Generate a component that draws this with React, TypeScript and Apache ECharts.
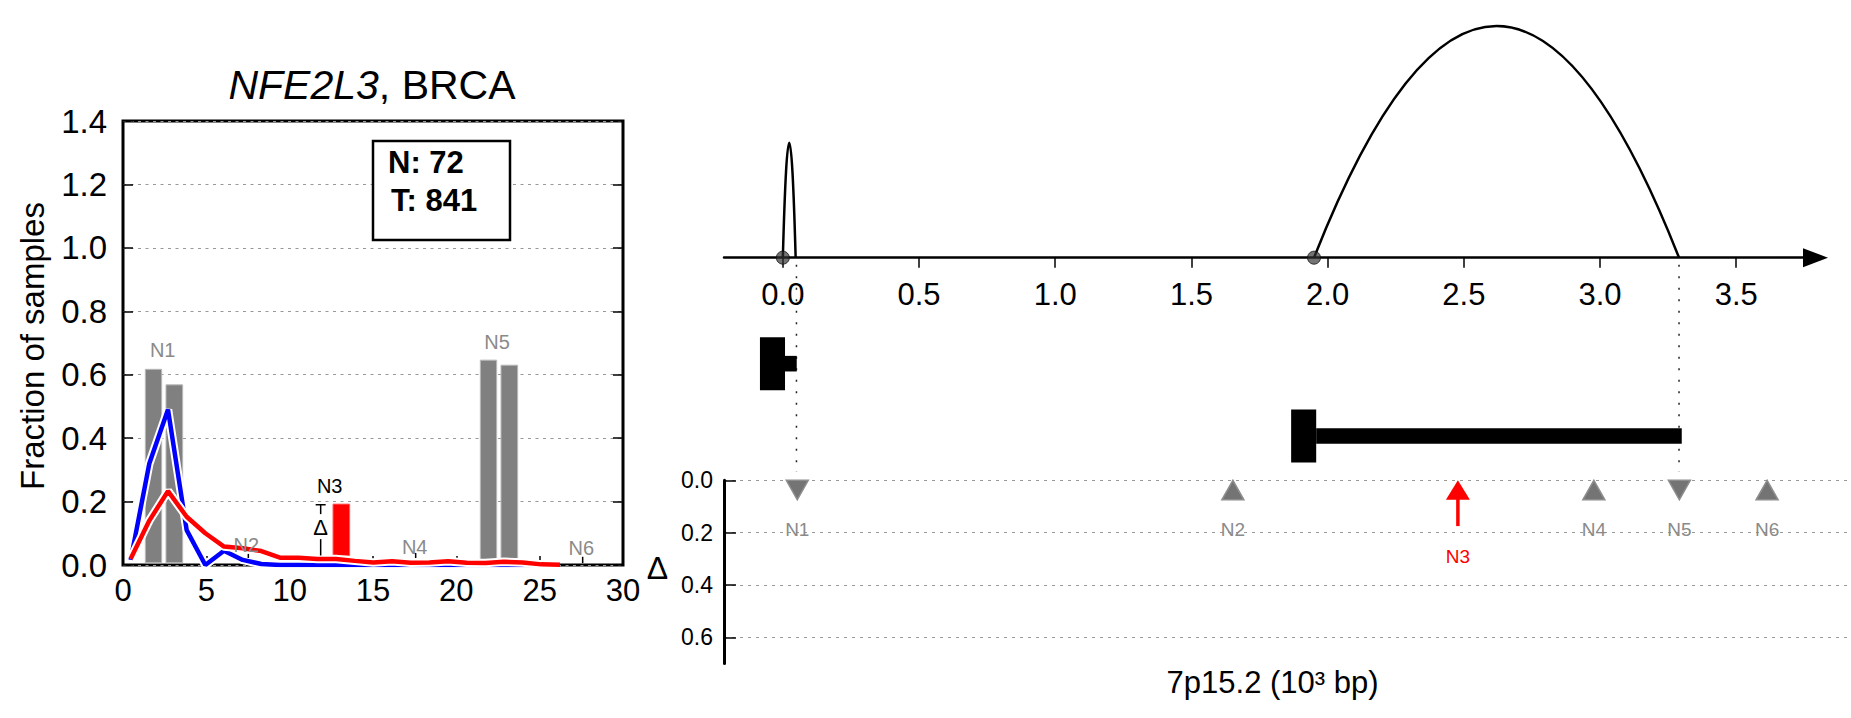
import React, { useEffect, useRef } from 'react';
import * as echarts from 'echarts';

const FONT = '"Liberation Sans", Arial, Helvetica, sans-serif';

// ---------------- Left panel: NFE2L3, BRCA ----------------
const curveX = [0.46, 1.58, 2.7, 3.82, 4.94, 6.06, 7.18, 8.3, 9.42, 10.54, 11.66, 12.78, 13.9, 15.02, 16.14, 17.26, 18.38, 19.5, 20.62, 21.74, 22.86, 23.98, 25.1, 26.22];
const normalCurve = [0.016, 0.32, 0.49, 0.11, 0.0, 0.045, 0.016, 0.003, 0.0, 0.0, 0.0, 0.0, 0.0, 0.0, 0.0, 0.0, 0.0, 0.0, 0.0, 0.0, 0.0, 0.0, 0.0, 0.0];
const tumorCurve = [0.02, 0.14, 0.233, 0.152, 0.1, 0.058, 0.053, 0.044, 0.023, 0.023, 0.019, 0.019, 0.013, 0.008, 0.012, 0.007, 0.008, 0.012, 0.007, 0.006, 0.01, 0.008, 0.002, 0.001];

const grayBarX0 = [1.34, 2.58, 21.44, 22.68];
const grayBarX1 = [2.32, 3.58, 22.42, 23.68];
const grayBarBottom = [0.007, 0.007, 0.016, 0.02];
const grayBarTop = [0.617, 0.568, 0.646, 0.63];

const redBarX0 = [12.6];
const redBarX1 = [13.6];
const redBarBottom = [0.03];
const redBarTop = [0.192];

const leftNodeNames = ['N1', 'N2', 'N3', 'N4', 'N5', 'N6'];
const leftNodeX = [2.38, 7.4, 12.4, 17.5, 22.44, 27.5];
const leftNodeY = [0.678, 0.063, 0.249, 0.057, 0.703, 0.054];

const smallTickX = [7.52, 17.56, 27.58];
const smallTickY0 = [0.022, 0.022, 0.006];
const smallTickY1 = [0.035, 0.038, 0.026];

const deltaMarkX = 11.86;
const deltaMarkTop = 0.19;
const deltaMarkBottom = 0.03;

const leftXMax = 30;
const leftYMax = 1.4;

// ---------------- Right panel: 7p15.2 ----------------
const arcStart = [0.0, 1.95];
const arcEnd = [0.047, 3.29];
const arcHeight = [0.496, 1.0];

const geneThickStart = [-0.084, 1.866];
const geneThinStart = [0.008, 1.958];
const geneEnd = [0.051, 3.3];
const geneTrackY = [-0.4575, -0.7695];

const guideX = [0.05, 3.29];
const guideY0 = -0.03;
const guideY1 = -0.925;

const topTicks = [0, 0.5, 1.0, 1.5, 2.0, 2.5, 3.0, 3.5];
const deltaTicks = [0, 0.2, 0.4, 0.6];

const nodeNames = ['N1', 'N2', 'N3', 'N4', 'N5', 'N6'];
const nodeX = [0.053, 1.652, 2.478, 2.977, 3.291, 3.613];
const nodeKind = ['down', 'up', 'arrow', 'up', 'down', 'up'];
const n3Delta = 0.175;

const X_MIN = -0.216;
const X_MAX_TOP = 3.791;
const X_MAX_BOTTOM = 3.91;

const txt = (text: string, x: number, y: number, font: string, fill: string, align = 'center', vAlign = 'middle', extra: any = {}) => ({
  type: 'text',
  x,
  y,
  ...extra,
  style: {
    text,
    font,
    fill,
    align,
    verticalAlign: vAlign,
    textAlign: align,
    textVerticalAlign: vAlign,
  },
});

function buildOption(): any {
  const lineStyleBase = { color: '#000', width: 1.5 };

  const grayBarData = grayBarX0.map((x, i) => [x, grayBarX1[i], grayBarBottom[i], grayBarTop[i]]);
  const redBarData = redBarX0.map((x, i) => [x, redBarX1[i], redBarBottom[i], redBarTop[i]]);
  const barRender = (fill: string, stroke: string) => (params: any, api: any) => {
    const p0 = api.coord([api.value(0), api.value(3)]);
    const p1 = api.coord([api.value(1), api.value(2)]);
    return {
      type: 'rect',
      shape: { x: p0[0], y: p0[1], width: p1[0] - p0[0], height: p1[1] - p0[1] },
      style: { fill, stroke, lineWidth: 1 },
    };
  };

  const normalData = curveX.map((x, i) => [x, normalCurve[i]]);
  const tumorData = curveX.map((x, i) => [x, tumorCurve[i]]);

  const leftLabelData = leftNodeNames.map((n, i) => [leftNodeX[i], leftNodeY[i], i]);
  const smallTickData = smallTickX.map((x, i) => [x, smallTickY0[i], smallTickY1[i]]);

  const arcData = arcStart.map((s, i) => [s, arcEnd[i], arcHeight[i]]);
  const geneData = geneThickStart.map((s, i) => [s, geneThinStart[i], geneEnd[i], geneTrackY[i]]);
  const guideData = guideX.map((x) => [x, guideY0, guideY1]);
  const nodeData = nodeX.map((x, i) => [x, 0, i]);

  return {
    animation: false,
    backgroundColor: '#fff',
    title: {
      text: '{it|NFE2L3}, BRCA',
      left: 367,
      top: 59,
      textAlign: 'center',
      textStyle: {
        fontSize: 41,
        fontWeight: 'normal',
        fontFamily: FONT,
        color: '#000',
        rich: { it: { fontStyle: 'italic', fontSize: 41, fontFamily: FONT, color: '#000' } },
      },
    },
    grid: [
      { left: 123, top: 121, width: 500, height: 444, show: true, borderColor: '#000', borderWidth: 3, backgroundColor: 'transparent' },
      { left: 724, top: 20, width: 1091.5, height: 237.7 },
      { left: 724, top: 480.3, width: 1124, height: 183.2 },
      { left: 724, top: 257.7, width: 1091.5, height: 222.6 },
    ],
    xAxis: [
      {
        gridIndex: 0, type: 'value', min: 0, max: leftXMax, interval: 5,
        axisLine: { show: false },
        axisTick: { inside: true, length: 9, lineStyle: lineStyleBase },
        axisLabel: { fontSize: 31, fontFamily: FONT, color: '#000', margin: 10 },
        splitLine: { show: false },
      },
      {
        gridIndex: 1, type: 'value', position: 'bottom', min: X_MIN, max: X_MAX_TOP,
        axisLine: { show: true, onZero: false, symbol: ['none', 'triangle'], symbolSize: [19, 25], lineStyle: { color: '#000', width: 2.5 } },
        axisTick: { show: true, customValues: topTicks, length: 10, lineStyle: lineStyleBase },
        axisLabel: { customValues: topTicks, formatter: (v: number) => v.toFixed(1), fontSize: 31, fontFamily: FONT, color: '#000', margin: 21 },
        splitLine: { show: false },
      },
      { gridIndex: 2, type: 'value', min: X_MIN, max: X_MAX_BOTTOM, show: false },
      { gridIndex: 3, type: 'value', min: X_MIN, max: X_MAX_TOP, show: false },
    ],
    yAxis: [
      {
        gridIndex: 0, type: 'value', min: 0, max: leftYMax, interval: 0.2,
        axisLine: { show: false },
        axisTick: { inside: true, length: 10, lineStyle: lineStyleBase },
        axisLabel: { fontSize: 33, fontFamily: FONT, color: '#000', margin: 16, formatter: (v: number) => v.toFixed(1) },
        splitLine: { show: true, lineStyle: { type: [3, 4.5], color: '#999', width: 1 } },
      },
      {
        gridIndex: 0, type: 'value', position: 'right', min: 0, max: leftYMax, interval: 0.2,
        axisLine: { show: false },
        axisTick: { inside: true, length: 10, lineStyle: lineStyleBase },
        axisLabel: { show: false },
        splitLine: { show: false },
      },
      { gridIndex: 1, type: 'value', min: 0, max: 1.026, show: false },
      {
        gridIndex: 2, type: 'value', inverse: true, min: 0, max: 0.7, position: 'left',
        axisLine: { show: true, onZero: false, lineStyle: { color: '#000', width: 3 } },
        axisTick: { inside: true, length: 12, customValues: deltaTicks, lineStyle: lineStyleBase },
        axisLabel: { customValues: deltaTicks, formatter: (v: number) => v.toFixed(1), fontSize: 23, fontFamily: FONT, color: '#000', margin: 11 },
        splitLine: { show: true, lineStyle: { type: [3, 5], color: '#999', width: 1 } },
      },
      { gridIndex: 3, type: 'value', min: -0.961, max: 0, show: false },
    ],
    series: [
      {
        type: 'custom', name: 'normal bars', xAxisIndex: 0, yAxisIndex: 0,
        data: grayBarData, renderItem: barRender('#808080', '#b8b8b8'), z: 2,
      },
      {
        type: 'custom', name: 'N3 bar', xAxisIndex: 0, yAxisIndex: 0,
        data: redBarData, renderItem: barRender('#ff0000', '#ff6060'), z: 2,
      },
      {
        type: 'line', name: 'normal-halo', xAxisIndex: 0, yAxisIndex: 0, data: normalData,
        showSymbol: false, symbol: 'none', silent: true, lineStyle: { color: '#fff', width: 8.5 }, z: 3,
      },
      {
        type: 'line', name: 'Normal', xAxisIndex: 0, yAxisIndex: 0, data: normalData,
        showSymbol: false, symbol: 'none', lineStyle: { color: '#0000ff', width: 4.5 }, z: 3,
      },
      {
        type: 'line', name: 'tumor-halo', xAxisIndex: 0, yAxisIndex: 0, data: tumorData,
        showSymbol: false, symbol: 'none', silent: true, lineStyle: { color: '#fff', width: 8.5 }, z: 4,
      },
      {
        type: 'line', name: 'Tumor', xAxisIndex: 0, yAxisIndex: 0, data: tumorData,
        showSymbol: false, symbol: 'none', lineStyle: { color: '#ff0000', width: 4.5 }, z: 4,
      },
      {
        type: 'custom', name: 'left labels', xAxisIndex: 0, yAxisIndex: 0, data: leftLabelData, z: 5,
        renderItem: (params: any, api: any) => {
          const i = api.value(2);
          const p = api.coord([api.value(0), api.value(1)]);
          const name = leftNodeNames[i];
          return txt(name, p[0], p[1], `20px ${FONT}`, name === 'N3' ? '#000' : '#8a8a8a');
        },
      },
      {
        type: 'custom', name: 'left small ticks', xAxisIndex: 0, yAxisIndex: 0, data: smallTickData, z: 5,
        renderItem: (params: any, api: any) => {
          const a = api.coord([api.value(0), api.value(1)]);
          const b = api.coord([api.value(0), api.value(2)]);
          return { type: 'line', shape: { x1: a[0], y1: a[1], x2: b[0], y2: b[1] }, style: { stroke: '#000', lineWidth: 1.5 } };
        },
      },
      {
        type: 'custom', name: 'delta mark', xAxisIndex: 0, yAxisIndex: 0, data: [[deltaMarkX, deltaMarkTop, deltaMarkBottom]], z: 5,
        renderItem: (params: any, api: any) => {
          const x = api.value(0);
          const top = api.coord([x, api.value(1)]);
          const bot = api.coord([x, api.value(2)]);
          const mid = (top[1] + bot[1]) / 2 - 3;
          return {
            type: 'group',
            children: [
              { type: 'line', shape: { x1: top[0] - 5, y1: top[1], x2: top[0] + 5, y2: top[1] }, style: { stroke: '#000', lineWidth: 1.5 } },
              { type: 'line', shape: { x1: top[0], y1: top[1], x2: top[0], y2: mid - 13 }, style: { stroke: '#000', lineWidth: 1.5 } },
              txt('Δ', top[0], mid, `22px ${FONT}`, '#000'),
              { type: 'line', shape: { x1: top[0], y1: mid + 12, x2: bot[0], y2: bot[1] }, style: { stroke: '#000', lineWidth: 1.5 } },
            ],
          };
        },
      },
      // ----- right top: arcs -----
      {
        type: 'custom', name: 'arcs', xAxisIndex: 1, yAxisIndex: 2, data: arcData, z: 3,
        renderItem: (params: any, api: any) => {
          const x0 = api.value(0);
          const x1 = api.value(1);
          const h = api.value(2);
          const a = api.coord([x0, 0]);
          const b = api.coord([x1, 0]);
          const c = api.coord([(x0 + x1) / 2, 2 * h]);
          return {
            type: 'bezierCurve',
            shape: { x1: a[0], y1: a[1], x2: b[0], y2: b[1], cpx1: c[0], cpy1: c[1] },
            style: { stroke: '#000', lineWidth: 2.5, fill: null },
          };
        },
      },
      {
        type: 'scatter', name: 'arc starts', xAxisIndex: 1, yAxisIndex: 2, clip: false,
        data: arcStart.map((x) => [x, 0]), symbolSize: 13, z: 4,
        itemStyle: { color: 'rgba(50,50,50,0.85)', borderColor: '#111', borderWidth: 1 },
      },
      // ----- right middle: gene models -----
      {
        type: 'custom', name: 'genes', xAxisIndex: 3, yAxisIndex: 4, data: geneData, z: 3,
        renderItem: (params: any, api: any) => {
          const yc = api.value(3);
          const a = api.coord([api.value(0), yc]);
          const b = api.coord([api.value(1), yc]);
          const c = api.coord([api.value(2), yc]);
          return {
            type: 'group',
            children: [
              { type: 'rect', shape: { x: a[0], y: a[1] - 26.5, width: b[0] - a[0], height: 53 }, style: { fill: '#000' } },
              { type: 'rect', shape: { x: b[0], y: b[1] - 7.8, width: c[0] - b[0], height: 15.6 }, style: { fill: '#000' } },
            ],
          };
        },
      },
      {
        type: 'custom', name: 'guides', xAxisIndex: 3, yAxisIndex: 4, data: guideData, z: 2,
        renderItem: (params: any, api: any) => {
          const a = api.coord([api.value(0), api.value(1)]);
          const b = api.coord([api.value(0), api.value(2)]);
          return { type: 'line', shape: { x1: a[0], y1: a[1], x2: b[0], y2: b[1] }, style: { stroke: '#222', lineWidth: 1.5, lineDash: [2, 9.5] } };
        },
      },
      // ----- right bottom: nodes -----
      {
        type: 'custom', name: 'nodes', xAxisIndex: 2, yAxisIndex: 3, data: nodeData, z: 4,
        renderItem: (params: any, api: any) => {
          const i = api.value(2);
          const x = api.value(0);
          const p = api.coord([x, 0]);
          const kind = nodeKind[i];
          const name = nodeNames[i];
          const children: any[] = [];
          if (kind === 'arrow') {
            const tail = api.coord([x, n3Delta]);
            children.push({ type: 'line', shape: { x1: p[0], y1: p[1] + 16, x2: tail[0], y2: tail[1] }, style: { stroke: '#ff0000', lineWidth: 3.5 } });
            children.push({ type: 'polygon', shape: { points: [[p[0], p[1]], [p[0] - 12, p[1] + 19.5], [p[0] + 12, p[1] + 19.5]] }, style: { fill: '#ff0000' } });
            children.push(txt(name, p[0], tail[1] + 30, `19px ${FONT}`, '#ff0000'));
          } else {
            const pts = kind === 'up'
              ? [[p[0], p[1]], [p[0] - 11, p[1] + 19.5], [p[0] + 11, p[1] + 19.5]]
              : [[p[0] - 11, p[1]], [p[0] + 11, p[1]], [p[0], p[1] + 19.5]];
            children.push({ type: 'polygon', shape: { points: pts }, style: { fill: '#747474', stroke: '#8e8e8e', lineWidth: 1.5 } });
            children.push(txt(name, p[0], p[1] + 49, `19px ${FONT}`, '#8a8a8a'));
          }
          return { type: 'group', children };
        },
      },
    ],
    graphic: [
      { type: 'rect', shape: { x: 373, y: 141, width: 137, height: 99 }, style: { fill: '#fff', stroke: '#000', lineWidth: 2.5 }, z: 100 },
      { ...txt('N: 72', 388, 162, `bold 31px ${FONT}`, '#000', 'left'), z: 101 },
      { ...txt('T: 841', 391, 200, `bold 31px ${FONT}`, '#000', 'left'), z: 101 },
      { ...txt('Fraction of samples', 32.5, 346, `33px ${FONT}`, '#000', 'center', 'middle', { rotation: Math.PI / 2 }), z: 101 },
      { ...txt('Δ', 657.5, 568, `32px ${FONT}`, '#000'), z: 101 },
      { ...txt('7p15.2 (10³ bp)', 1272.6, 682.7, `31px ${FONT}`, '#000'), z: 101 },
    ],
  };
}

export default function App() {
  const ref = useRef<HTMLDivElement>(null);
  useEffect(() => {
    if (!ref.current) return;
    const chart = echarts.init(ref.current, undefined, { renderer: 'svg' });
    chart.setOption(buildOption());
    return () => chart.dispose();
  }, []);
  return (
    <div
      ref={ref}
      style={{ position: 'absolute', left: 0, top: 0, width: 1851, height: 718, background: '#fff' }}
    />
  );
}
